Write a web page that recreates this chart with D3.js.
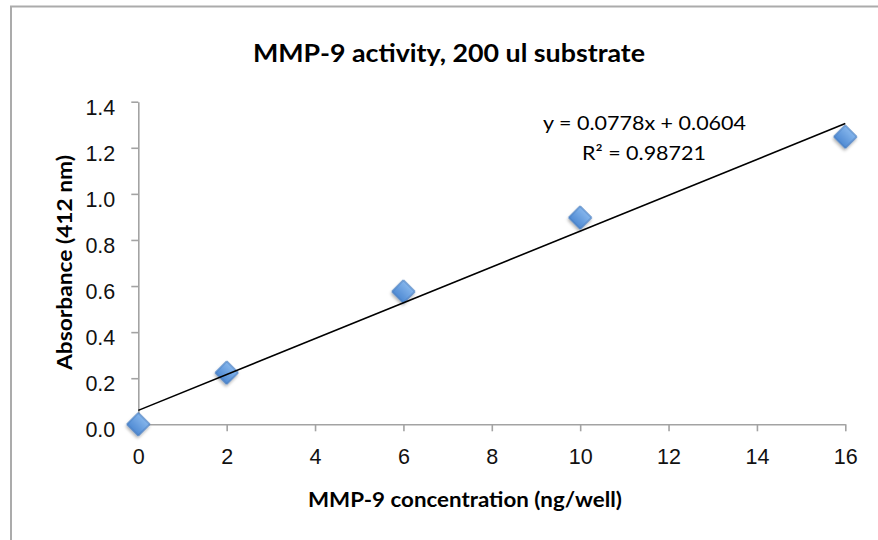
<!DOCTYPE html>
<html lang="en">
<head>
<meta charset="UTF-8" />
<title>MMP-9 activity</title>
<script src="https://d3js.org/d3.v7.min.js"></script>
<style>
  body { margin: 0; background: #fff; }
  svg { display: block; font-family: Lato, "Open Sans", sans-serif; }
  .axis path, .axis line { stroke: #a3a3a3; stroke-width: 1.6; }
  .axis text { fill: #111; font-size: 21.5px; }
</style>
</head>
<body>
<svg width="878" height="540"></svg>
<script>
// data
const concentration = [0, 2, 6, 10, 16];
const absorbance = [0.0, 0.224, 0.576, 0.897, 1.248];
const xTicks = [0, 2, 4, 6, 8, 10, 12, 14, 16];
const yTicks = [0, 0.2, 0.4, 0.6, 0.8, 1.0, 1.2, 1.4];
const slope = 0.0778, intercept = 0.0604;
const eqLabel = "y = 0.0778x + 0.0604";
const r2Label = "R² = 0.98721";

const svg = d3.select("svg");

// chart frame (cut off at right/bottom like the screenshot)
svg.append("rect")
  .attr("x", 11).attr("y", 6.5).attr("width", 1000).attr("height", 700)
  .attr("fill", "none").attr("stroke", "#ababab").attr("stroke-width", 2);

const x = d3.scaleLinear().domain([0, 16]).range([138.3, 845.3]);
const y = d3.scaleLinear().domain([0, 1.4]).range([424.3, 101.7]);

// axes
const yAxis = svg.append("g").attr("class", "axis")
  .attr("transform", `translate(${x(0)},0)`)
  .call(d3.axisLeft(y).tickValues(yTicks).tickFormat(d3.format(".1f"))
    .tickSize(7).tickSizeOuter(0).tickPadding(16));
yAxis.selectAll("text").attr("dy", "0.58em");

const xAxis = svg.append("g").attr("class", "axis")
  .attr("transform", `translate(0,${y(0)})`)
  .call(d3.axisBottom(x).tickValues(xTicks).tickFormat(d3.format("d"))
    .tickSize(7).tickSizeOuter(0).tickPadding(17));

// marker gradient
const defs = svg.append("defs");
const grad = defs.append("linearGradient").attr("id", "mk")
  .attr("x1", 0).attr("y1", 0).attr("x2", 0).attr("y2", 1);
grad.append("stop").attr("offset", "0%").attr("stop-color", "#86b6ec");
grad.append("stop").attr("offset", "100%").attr("stop-color", "#4f8ad3");
const sh = defs.append("filter").attr("id", "sh").attr("x", "-50%").attr("y", "-50%")
  .attr("width", "200%").attr("height", "200%");
sh.append("feDropShadow").attr("dx", 1).attr("dy", 2).attr("stdDeviation", 1.5)
  .attr("flood-color", "#000").attr("flood-opacity", 0.3);

// points
const diamond = d3.symbol().type(d3.symbolSquare).size(265);
svg.append("g").selectAll("path")
  .data(concentration.map((c, i) => [c, absorbance[i]]))
  .join("path")
  .attr("d", diamond)
  .attr("transform", d => `translate(${x(d[0])},${y(d[1])}) rotate(45)`)
  .attr("fill", "url(#mk)")
  .attr("stroke", "#4177bd")
  .attr("stroke-width", 1)
  .attr("filter", "url(#sh)");

// linear trendline
svg.append("line")
  .attr("x1", x(0)).attr("y1", y(intercept))
  .attr("x2", x(16)).attr("y2", y(slope * 16 + intercept))
  .attr("stroke", "#000").attr("stroke-width", 1.6);

// equation labels
svg.append("text").attr("x", 644.5).attr("y", 129.5).attr("text-anchor", "middle")
  .attr("font-size", 19.5).attr("textLength", 203).attr("lengthAdjust", "spacingAndGlyphs")
  .text(eqLabel);
svg.append("text").attr("x", 644).attr("y", 159.5).attr("text-anchor", "middle")
  .attr("font-size", 19.5).attr("textLength", 124).attr("lengthAdjust", "spacingAndGlyphs")
  .text(r2Label);

// titles
svg.append("text").attr("x", 449).attr("y", 61.5).attr("text-anchor", "middle")
  .attr("font-size", 24).attr("font-weight", "bold")
  .attr("textLength", 392).attr("lengthAdjust", "spacingAndGlyphs")
  .text("MMP-9 activity, 200 ul substrate");

svg.append("text").attr("x", 465).attr("y", 506.5).attr("text-anchor", "middle")
  .attr("font-size", 20).attr("font-weight", "bold")
  .attr("textLength", 314).attr("lengthAdjust", "spacingAndGlyphs")
  .text("MMP-9 concentration (ng/well)");

svg.append("text")
  .attr("transform", "translate(71.5,262.5) rotate(-90)")
  .attr("text-anchor", "middle")
  .attr("font-size", 20).attr("font-weight", "bold")
  .attr("textLength", 215).attr("lengthAdjust", "spacingAndGlyphs")
  .text("Absorbance (412 nm)");
</script>
</body>
</html>
